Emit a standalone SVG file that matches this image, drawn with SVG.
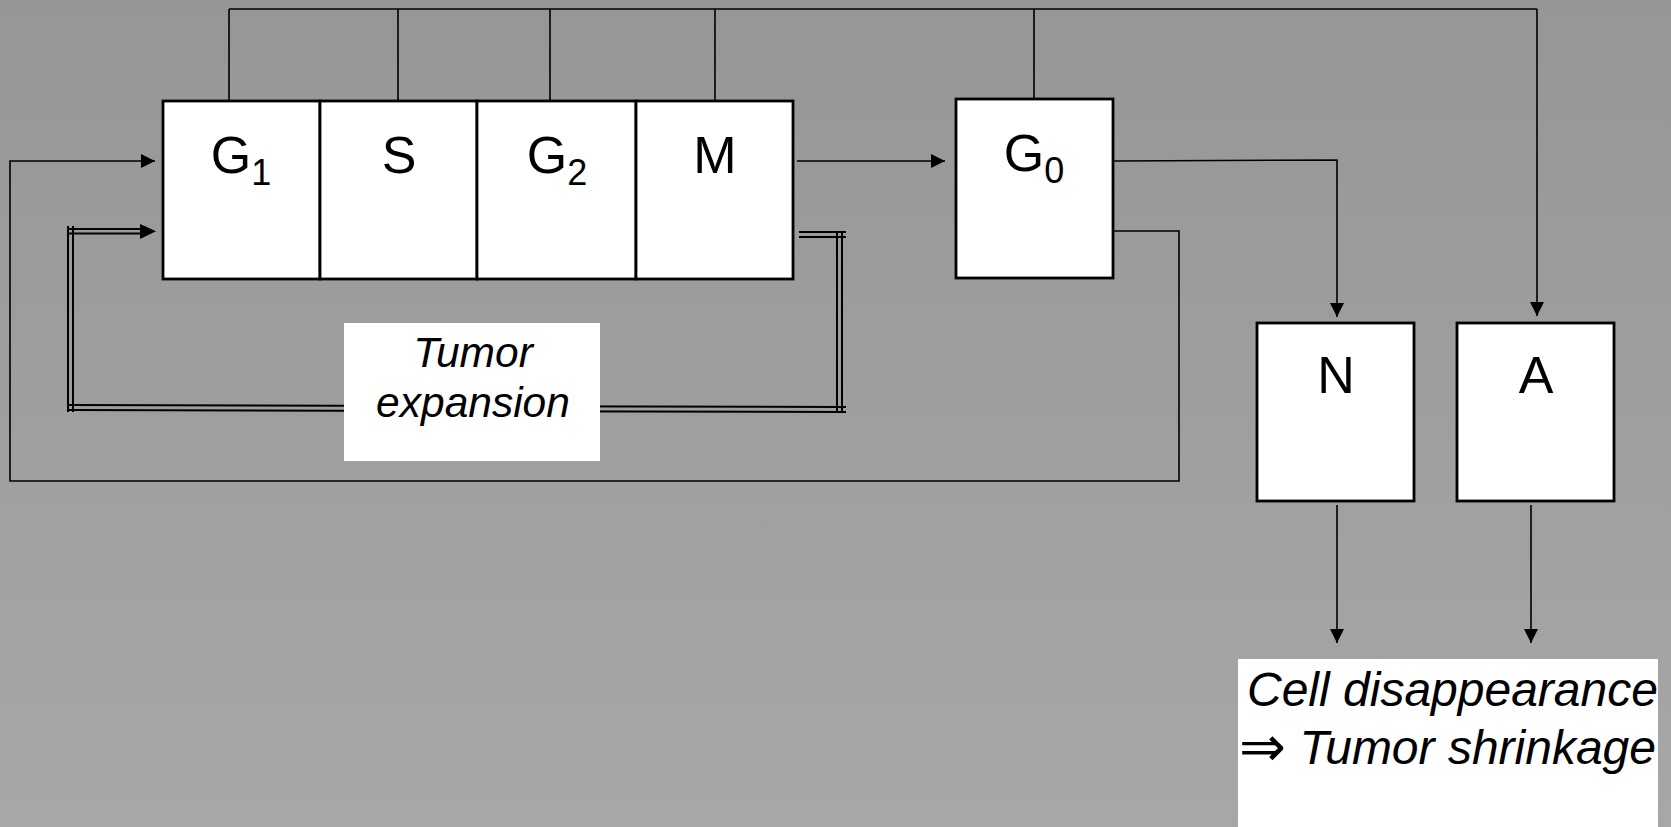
<svg xmlns="http://www.w3.org/2000/svg" width="1671" height="827" viewBox="0 0 1671 827">
<defs>
<linearGradient id="bg" x1="0" y1="0" x2="0" y2="1">
<stop offset="0" stop-color="#969696"/>
<stop offset="1" stop-color="#a7a7a7"/>
</linearGradient>
<marker id="ah" viewBox="0 0 14 14" refX="14" refY="7" markerWidth="14" markerHeight="14" markerUnits="userSpaceOnUse" orient="auto">
<path d="M0,0 L14,7 L0,14 Z" fill="#000"/>
</marker>
<style>
.box{fill:#fff;stroke:#000;stroke-width:2.8}
.lbl{font-family:"Liberation Sans",Arial,sans-serif;font-size:52px;fill:#000;text-anchor:middle}
.sub{font-size:36px}
.it{font-family:"Liberation Sans",Arial,"DejaVu Sans",sans-serif;font-style:italic;fill:#000}
.ln{fill:none;stroke:#000;stroke-width:1.6}
.dl{fill:none;stroke:#000;stroke-width:2}
</style>
</defs>
<rect x="0" y="0" width="1671" height="827" fill="url(#bg)"/>

<g id="connectors">
<path class="ln" d="M229,9 L1537,9"/>
<path class="ln" d="M229,9 L229,101 M398,9 L398,101 M550,9 L550,101 M715,9 L715,101 M1034,9 L1034,99"/>
<path class="ln" d="M1537,9 L1537,316" marker-end="url(#ah)"/>
<path class="ln" d="M797,161 L945,161" marker-end="url(#ah)"/>
<path class="ln" d="M1113,161 L1337,160 L1337,317" marker-end="url(#ah)"/>
<path class="ln" d="M1113,231 L1179,231 L1179,481 L10,481 L10,161 L155,161" marker-end="url(#ah)"/>
<path class="ln" d="M1337,505 L1337,643" marker-end="url(#ah)"/>
<path class="ln" d="M1531,505 L1531,643" marker-end="url(#ah)"/>
<path class="dl" d="M799,232 L846,232 M799,237 L846,237"/>
<path class="dl" d="M837,232 L837,413 M842,232 L842,413"/>
<path class="dl" d="M846,407 L68,405 M846,412 L68,410"/>
<path class="dl" d="M68,226 L68,412 M73,226 L73,412"/>
<path class="dl" d="M68,229 L142,229 M68,233.5 L142,233.5"/>
<path d="M140,224 L156,231.3 L140,239 Z" fill="#000"/>
</g>

<g id="G1">
<rect class="box" x="163" y="101" width="157" height="178"/>
<text class="lbl" x="241" y="173">G<tspan class="sub" dy="12">1</tspan></text>
</g>
<g id="S">
<rect class="box" x="320" y="101" width="157" height="178"/>
<text class="lbl" x="399" y="173">S</text>
</g>
<g id="G2">
<rect class="box" x="477" y="101" width="159" height="178"/>
<text class="lbl" x="557" y="173">G<tspan class="sub" dy="12">2</tspan></text>
</g>
<g id="M">
<rect class="box" x="636" y="101" width="157" height="178"/>
<text class="lbl" x="715" y="173">M</text>
</g>
<g id="G0">
<rect class="box" x="956" y="99" width="157" height="179"/>
<text class="lbl" x="1034" y="171">G<tspan class="sub" dy="12">0</tspan></text>
</g>
<g id="N">
<rect class="box" x="1257" y="323" width="157" height="178"/>
<text class="lbl" x="1336" y="393">N</text>
</g>
<g id="A">
<rect class="box" x="1457" y="323" width="157" height="178"/>
<text class="lbl" x="1536" y="393">A</text>
</g>
<g id="tumor-expansion">
<rect x="344" y="323" width="256" height="138" fill="#fff"/>
<text class="it" x="473" y="367" font-size="42.5" text-anchor="middle">Tumor</text>
<text class="it" x="473" y="417" font-size="42.5" text-anchor="middle">expansion</text>
</g>
<g id="disappearance">
<rect x="1238" y="659" width="420" height="168" fill="#fff"/>
<text class="it" x="1247" y="706" font-size="48">Cell disappearance</text>
<text x="1239" y="766" font-size="56" font-family="'DejaVu Sans',sans-serif" fill="#000">⇒</text>
<text class="it" x="1656" y="764" font-size="48" text-anchor="end">Tumor shrinkage</text>
</g>
</svg>
